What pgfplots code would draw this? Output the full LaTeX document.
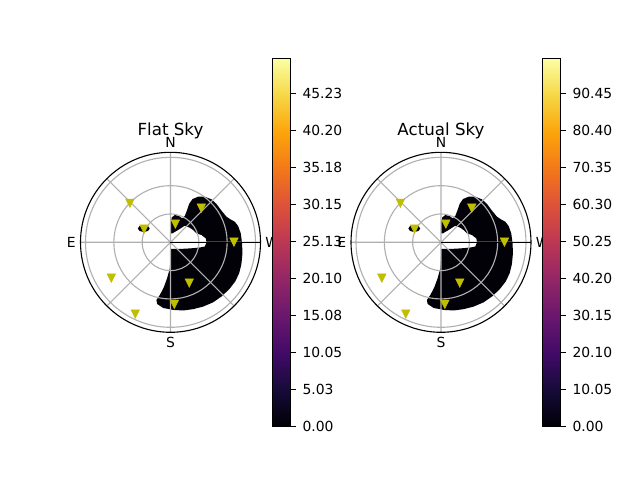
\documentclass[border=0pt]{standalone}
\usepackage{pgfplots}
\pgfplotsset{compat=1.18}
\usepackage{pgfplotstable}
\usepgfplotslibrary{polar}
\usepackage{fontspec}
\setmainfont{DejaVu Sans}

\pgfplotsset{colormap={inferno}{rgb255=(0,0,4) rgb255=(22,11,57) rgb255=(66,10,104) rgb255=(106,23,110) rgb255=(147,38,103) rgb255=(188,55,84) rgb255=(221,81,58) rgb255=(243,120,25) rgb255=(252,165,10) rgb255=(246,215,70) rgb255=(252,255,164)}}

\definecolor{mplgrid}{RGB}{176,176,176}
\definecolor{mply}{rgb}{0.75,0.75,0}
\definecolor{regionfill}{RGB}{2,1,8}

% outline of the filled region (cartesian, zenith-angle units; x to W, y to N)
\pgfplotstableread{
x y
0 -7.0
0 -15.2
-0.7 -27.6
-3.6 -38.1
-7.1 -47.7
-11.3 -55.8
-14.9 -61.1
-14.2 -65.3
-7.8 -69.5
2.8 -71.6
13.4 -72.2
24.0 -70.8
34.5 -68.1
45.1 -63.6
54.0 -57.4
62.1 -49.8
68.4 -41.7
72.7 -32.9
75.1 -23.0
76.2 -11.7
75.8 -1.1
74.4 9.5
71.6 17.3
68.1 21.8
63.5 24.3
59.3 27.1
54.0 33.5
48.7 40.6
43.4 45.5
36.3 48.3
29.3 48.3
23.3 45.8
19.7 40.6
17.6 34.2
15.1 27.8
12.3 25.4
9.1 27.8
4.6 28.9
1.4 26.4
0 20.1
0 9.5
2.1 9.5
8.0 13.0
15.1 17.6
20.4 15.5
23.9 13.0
27.5 9.5
32.8 7.7
37.4 4.2
38.1 0.0
36.3 -4.5
31.0 -5.5
23.9 -6.2
15.1 -6.8
6.4 -7.0
0 -7.0
}\region

\pgfplotstableread{
x y
-34.6 14.6
-32.8 17.2
-28.3 18.3
-23.8 17.2
-22.0 14.6
-23.8 12.0
-28.3 10.9
-32.8 12.0
-34.6 14.6
}\blob

% satellites: angle (deg, counter-clockwise from W), zenith radius
\pgfplotstableread{
a r
135.1 60.7
151.1 32.0
76.2 21.4
49.1 49.8
1.4 67.2
295.5 46.2
273.6 64.4
210.2 72.5
243.4 83.3
}\sats

\pgfplotsset{
 skybase/.style={
  scale only axis, width=129.6pt, height=129.6pt, anchor=center,
  xmin=0, xmax=360, ymin=0, ymax=95.3,
 },
 skyplot/.style={
  skybase,
  xtick={0,45,...,315}, xticklabels={W,,N,,E,,S,},
  ytick={30,60,90}, yticklabels={},
  grid=major, grid style={mplgrid, line width=0.8pt},
  axis line style={black, line width=0.8pt},
  major tick length=0pt,
  axis on top,
  xticklabel style={font=\fontsize{10}{12}\selectfont},
  title style={at={(0.5,1)}, anchor=base, yshift=-2.6pt, font=\fontsize{12}{14.4}\selectfont},
  colorbar,
  colormap name=inferno,
  point meta min=0,
 },
 cbar/.style={
  anchor=west, xshift=-0.3cm,
  scale only axis, width=13.25pt, height=265.2pt,
  ytick pos=right, yticklabel pos=right,
  tick align=outside, major tick length=3.5pt,
  tick style={black, line width=0.8pt},
  axis line style={black, line width=0.8pt},
  yticklabel style={font=\fontsize{10}{12}\selectfont, xshift=1.5pt},
 },
 satmarks/.style={only marks, mark=triangle*, mark size=3.5pt,
  mark options={yscale=-1.15, fill=mply, draw=mply}},
}

\begin{document}
\begin{tikzpicture}
\path[use as bounding box] (0,0) rectangle (460.8pt,345.6pt);
\coordinate (cbA) at (196.06pt,171.0pt);
\coordinate (cbB) at (390.46pt,171.0pt);

% ---------- Flat Sky ----------
\begin{polaraxis}[skyplot, at={(122.76pt,171.14pt)}, title={Flat Sky},
  point meta max=50,
  colorbar style={cbar, at={(cbA)},
    ytick={0,5.025,10.05,15.075,20.1,25.125,30.15,35.175,40.2,45.225},
    yticklabels={0.00,5.03,10.05,15.08,20.10,25.13,30.15,35.18,40.20,45.23}}]
\addplot[draw=none, fill=regionfill, data cs=cart] table[x=x,y=y] {\region};
\addplot[draw=none, fill=regionfill, data cs=cart] table[x=x,y=y] {\blob};
\end{polaraxis}
\begin{polaraxis}[skybase, at={(122.76pt,171.14pt)}, hide axis]
\addplot[satmarks] table[x=a,y=r] {\sats};
\end{polaraxis}

% ---------- Actual Sky ----------
\begin{polaraxis}[skyplot, at={(317.52pt,171.14pt)}, title={Actual Sky},
  point meta max=100,
  colorbar style={cbar, at={(cbB)},
    ytick={0,10.05,20.1,30.15,40.2,50.25,60.3,70.35,80.4,90.45},
    yticklabels={0.00,10.05,20.10,30.15,40.20,50.25,60.30,70.35,80.40,90.45}}]
\addplot[draw=none, fill=regionfill, data cs=cart] table[x=x,y=y] {\region};
\addplot[draw=none, fill=regionfill, data cs=cart] table[x=x,y=y] {\blob};
\end{polaraxis}
\begin{polaraxis}[skybase, at={(317.52pt,171.14pt)}, hide axis]
\addplot[satmarks] table[x=a,y=r] {\sats};
\end{polaraxis}
\end{tikzpicture}
\end{document}
